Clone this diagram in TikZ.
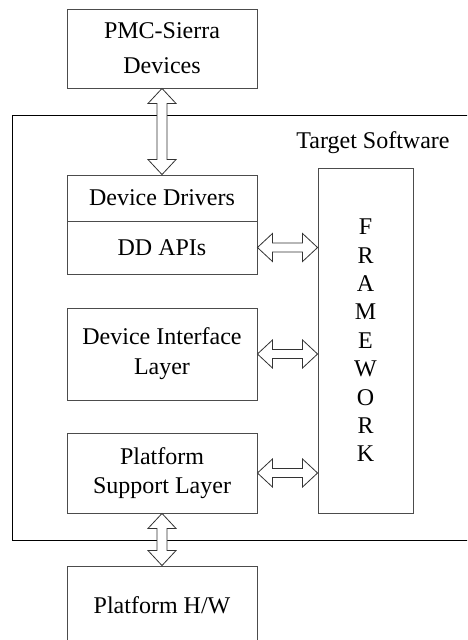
\documentclass[tikz,border=0pt]{standalone}
\usepackage{fontspec}
\setmainfont{Liberation Serif}
\usetikzlibrary{calc}

\tikzset{
  blockbox/.style={draw=black!70, line width=0.9pt, minimum width=190pt, inner sep=0pt,
    align=center, font=\fontsize{24}{32}\selectfont},
  fatarrow/.style={draw=black!80, line width=0.8pt, fill=white, line join=miter},
  outline/.style={draw=black, line width=1pt},
}

% vertical double-headed block arrow from #1 (upper end) down to #2 (lower end)
\newcommand\vfatarrow[2]{%
  \draw[fatarrow] let \p1=(#1), \p2=(#2) in
    (\x1,\y1) -- ({\x1-14pt},{\y1-15pt}) -- ({\x1-5pt},{\y1-15pt})
    -- ({\x1-5pt},{\y2+15pt}) -- ({\x1-14pt},{\y2+15pt}) -- (\x1,\y2)
    -- ({\x1+14pt},{\y2+15pt}) -- ({\x1+5pt},{\y2+15pt})
    -- ({\x1+5pt},{\y1-15pt}) -- ({\x1+14pt},{\y1-15pt}) -- cycle;}

% horizontal double-headed block arrow from #1 (left end) to #2 (right end)
\newcommand\hfatarrow[2]{%
  \draw[fatarrow] let \p1=(#1), \p2=(#2) in
    (\x1,\y1) -- ({\x1+15pt},{\y1+14pt}) -- ({\x1+15pt},{\y1+4.5pt})
    -- ({\x2-15pt},{\y1+4.5pt}) -- ({\x2-15pt},{\y1+14pt}) -- (\x2,\y1)
    -- ({\x2-15pt},{\y1-14pt}) -- ({\x2-15pt},{\y1-4.5pt})
    -- ({\x1+15pt},{\y1-4.5pt}) -- ({\x1+15pt},{\y1-14pt}) -- cycle;}

\begin{document}
\begin{tikzpicture}[x=1pt, y=-1pt]
  \clip (0,0) rectangle (467,640);
  \fill[white] (0,0) rectangle (467,640);

  % Target software enclosure (open towards the right edge)
  \draw[outline] (475,115) -- (12,115) -- (12,540) -- (475,540);
  \node[font=\fontsize{24}{28}\selectfont, inner sep=0pt] (ts) at (373,143) {Target Software};

  % blocks
  \node[blockbox, minimum height=79pt, font=\fontsize{24}{35}\selectfont] (pmc) at (162,48.5) {PMC-Sierra\\Devices};
  \node[blockbox, minimum height=46pt] (dd)  at (162,198) {Device Drivers};
  \node[blockbox, minimum height=53pt] (api) at (162,247.5) {DD APIs};
  \node[blockbox, minimum height=92pt, font=\fontsize{24}{30}\selectfont] (dil) at (162,354) {Device Interface\\Layer};
  \node[blockbox, minimum height=80pt, font=\fontsize{24}{29}\selectfont] (psl) at (162,473) {Platform\\Support Layer};
  \node[blockbox, minimum height=78pt] (hw)  at (162,605) {Platform H/W};
  \node[blockbox, minimum width=95pt, minimum height=345pt,
        font=\fontsize{24}{28.4}\selectfont] (fw) at (365.5,340.5)
        {F\\R\\A\\M\\E\\W\\O\\R\\K};

  % connectors
  \vfatarrow{pmc.south}{dd.north}
  \vfatarrow{psl.south}{hw.north}
  \hfatarrow{api.east}{api.east -| fw.west}
  \hfatarrow{dil.east}{dil.east -| fw.west}
  \hfatarrow{psl.east}{psl.east -| fw.west}
\end{tikzpicture}
\end{document}
